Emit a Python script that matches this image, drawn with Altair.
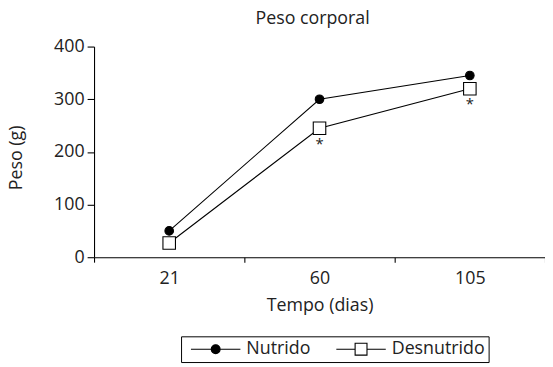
import altair as alt
import pandas as pd

dias = ["21", "60", "105"]
series = ["Nutrido", "Desnutrido"]
nutrido = [50, 300, 345]
desnutrido = [27, 245, 320]
sig_desnutrido = ["", "*", "*"]

rows = []
for i, d in enumerate(dias):
    rows.append({"dia": d, "serie": "Nutrido", "peso": nutrido[i], "sig": ""})
    rows.append({"dia": d, "serie": "Desnutrido", "peso": desnutrido[i], "sig": sig_desnutrido[i]})
df = pd.DataFrame(rows)

FONT = "Open Sans"
INK = "#222222"
FS = 18

x = alt.X(
    "dia:N",
    sort=dias,
    scale=alt.Scale(type="band", domain=dias, paddingInner=0, paddingOuter=0),
    axis=alt.Axis(
        title="Tempo (dias)",
        tickBand="extent",
        labelAngle=0,
        tickSize=5,
        labelPadding=8,
        titlePadding=9,
        grid=False,
    ),
)
y = alt.Y(
    "peso:Q",
    scale=alt.Scale(domain=[0, 400], nice=False),
    axis=alt.Axis(
        title="Peso (g)",
        values=[0, 100, 200, 300, 400],
        tickSize=7,
        labelPadding=3,
        titleX=-69,
        titleY=112,
        grid=False,
    ),
)

base = alt.Chart(df)

lines = base.mark_line(color="black", strokeWidth=1.1).encode(
    x=x, y=y, detail="serie:N"
)

points = base.mark_point(stroke="black", strokeWidth=1.1, opacity=1).encode(
    x=x,
    y=y,
    shape=alt.Shape("serie:N", scale=alt.Scale(domain=series, range=["circle", "square"]), legend=None),
    fill=alt.Fill("serie:N", scale=alt.Scale(domain=series, range=["black", "white"]), legend=None),
    size=alt.Size("serie:N", scale=alt.Scale(domain=series, range=[75, 160]), legend=None),
)

stars = base.transform_filter("datum.sig != ''").mark_text(
    dy=16, fontSize=15, font=FONT, color=INK
).encode(x=x, y=y, text="sig:N")

# legend symbols: line with marker, in Vega's custom-path units (scaled by sqrt(size)/2)
path_circ = "M-5,0H5M0.9,0A0.9,0.9,0,1,1,-0.9,0A0.9,0.9,0,1,1,0.9,0Z"
path_sq = "M-5,0H-1.2M1.2,0H5M-1.2,-1.2H1.2V1.2H-1.2Z"

leg = dict(title=None, orient="none", legendX=88, legendY=293)

legend_layer = base.transform_filter("false").mark_point(opacity=1).encode(
    shape=alt.Shape(
        "serie:N",
        scale=alt.Scale(domain=series, range=[path_circ, path_sq]),
        legend=alt.Legend(
            direction="horizontal",
            symbolSize=100,
            symbolOffset=22,
            symbolStrokeWidth=1.1,
            symbolOpacity=1,
            labelFont=FONT,
            labelFontSize=FS,
            labelColor=INK,
            labelOffset=22,
            columnPadding=20,
            strokeColor="black",
            padding=4,
            **leg,
        ),
    ),
    fill=alt.Fill(
        "serie:N",
        scale=alt.Scale(domain=series, range=["black", "white"]),
        legend=alt.Legend(**leg),
    ),
    stroke=alt.Stroke(
        "serie:N",
        scale=alt.Scale(domain=series, range=["black", "black"]),
        legend=alt.Legend(**leg),
    ),
)

chart = (
    alt.layer(lines, points, stars, legend_layer)
    .resolve_scale(shape="independent", fill="independent", stroke="independent")
    .properties(
        width=456,
        height=213,
        title=alt.TitleParams("Peso corporal", fontSize=FS, font=FONT, color=INK, fontWeight="normal", offset=10, dx=-7),
        autosize=alt.AutoSizeParams(type="none"),
        padding={"left": 87, "top": 37, "right": 0, "bottom": 108},
    )
    .configure_view(stroke=None)
    .configure_axis(
        labelFont=FONT,
        titleFont=FONT,
        labelFontSize=FS,
        titleFontSize=FS,
        labelColor=INK,
        titleColor=INK,
        titleFontWeight="normal",
        domainColor="black",
        tickColor="black",
        domainWidth=1.1,
        tickWidth=1.1,
    )
)

chart.save("out.html", embed_options={"renderer": "svg", "actions": False})
